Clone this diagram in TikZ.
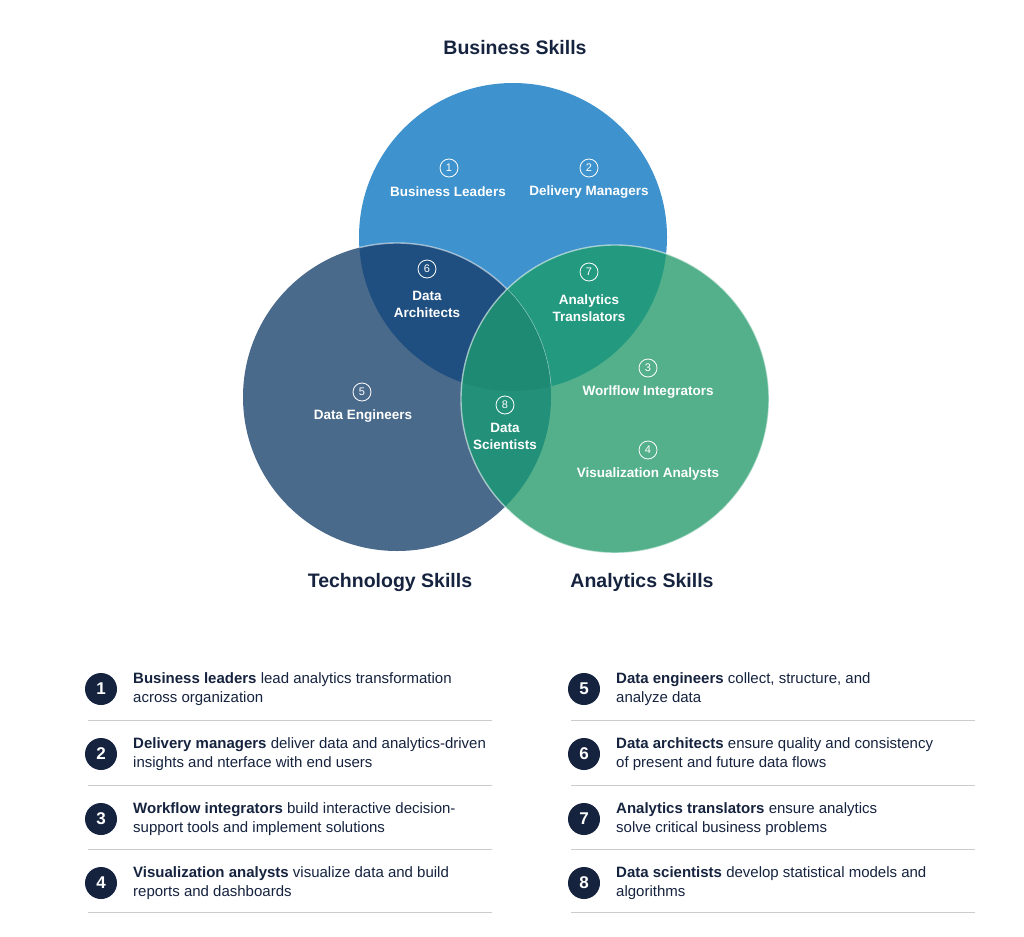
\documentclass[tikz,border=0pt]{standalone}
\usepackage{fontspec}
\setmainfont{Liberation Sans}
\usetikzlibrary{positioning}

\definecolor{navy}{HTML}{16233F}
\definecolor{bizblue}{HTML}{3E92CD}
\definecolor{techblue}{HTML}{4A6A8C}
\definecolor{anagreen}{HTML}{53B08B}
\definecolor{bizttech}{HTML}{1F4F80}
\definecolor{bizana}{HTML}{23997F}
\definecolor{techana}{HTML}{23907A}
\definecolor{allthree}{HTML}{1F8A74}

\begin{document}
\begin{tikzpicture}[x=1pt,y=-1pt,
  skill/.style={font=\bfseries\fontsize{19.5}{22}\selectfont,text=navy,inner sep=0},
  role/.style={font=\bfseries\fontsize{13.5}{17}\selectfont,text=white,align=center,inner sep=0},
  num/.style={circle,draw=white,line width=0.8pt,minimum size=18pt,inner sep=0,
    font=\fontsize{11}{11}\selectfont,text=white},
  badge/.style={circle,fill=navy,minimum size=32pt,inner sep=0,
    font=\bfseries\fontsize{17}{17}\selectfont,text=white},
  item/.style={anchor=west,align=left,inner sep=0,
    font=\fontsize{15}{18.5}\selectfont,text=navy},
  rule/.style={draw=black!20,line width=0.8pt}]

\useasboundingbox (0,0) rectangle (1024,936);
\fill[white] (0,0) rectangle (1024,936);

% circle centres and radius
\def\r{154pt}
\coordinate (B) at (513,237);
\coordinate (T) at (397,397);
\coordinate (A) at (615,399);

\fill[bizblue]  (B) circle[radius=\r];
\fill[techblue] (T) circle[radius=\r];
\fill[anagreen] (A) circle[radius=\r];

\begin{scope}
\clip (B) circle[radius=\r];
\fill[bizttech] (T) circle[radius=\r];
\fill[bizana]   (A) circle[radius=\r];
\draw[white,opacity=0.55,line width=1.4pt] (T) circle[radius=\r];
\end{scope}

\begin{scope}
\clip (T) circle[radius=\r];
\fill[techana] (A) circle[radius=\r];
\clip (B) circle[radius=\r];
\fill[allthree] (A) circle[radius=\r];
\end{scope}

\draw[white,opacity=0.55,line width=1.4pt] (A) circle[radius=\r];

% titles
\node[skill] (bizskills)  at (515,48)  {Business Skills};
\node[skill] (techskills) at (390,582) {Technology Skills};
\node[skill] (anaskills)  at (642,582) {Analytics Skills};

% roles in the circles
\node[num]  (n1) at (449,168) {1};
\node[role] (r1) at (448,192) {Business Leaders};
\node[num]  (n2) at (589,168) {2};
\node[role] (r2) at (589,192) {Delivery Managers};
\node[num]  (n3) at (648,368) {3};
\node[role] (r3) at (648,392) {Worlflow Integrators};
\node[num]  (n4) at (648,450) {4};
\node[role] (r4) at (648,474) {Visualization Analysts};
\node[num]  (n5) at (362,392) {5};
\node[role] (r5) at (363,416) {Data Engineers};
\node[num]  (n6) at (427,269) {6};
\node[role] (r6) at (427,304.5) {Data\\Architects};
\node[num]  (n7) at (589,272) {7};
\node[role] (r7) at (589,308.5) {Analytics\\Translators};
\node[num]  (n8) at (505,405) {8};
\node[role] (r8) at (505,436.5) {Data\\Scientists};

% legend, left column
\node[badge] (b1) at (101,689) {1};
\node[item]  (t1) at (133,689) {\textbf{Business leaders} lead analytics transformation\\across organization};
\node[badge] (b2) at (101,754) {2};
\node[item]  (t2) at (133,754) {\textbf{Delivery managers} deliver data and analytics-driven\\insights and nterface with end users};
\node[badge] (b3) at (101,819) {3};
\node[item]  (t3) at (133,819) {\textbf{Workflow integrators} build interactive decision-\\support tools and implement solutions};
\node[badge] (b4) at (101,883) {4};
\node[item]  (t4) at (133,883) {\textbf{Visualization analysts} visualize data and build\\reports and dashboards};

% legend, right column
\node[badge] (b5) at (584,689) {5};
\node[item]  (t5) at (616,689) {\textbf{Data engineers} collect, structure, and\\analyze data};
\node[badge] (b6) at (584,754) {6};
\node[item]  (t6) at (616,754) {\textbf{Data architects} ensure quality and consistency\\of present and future data flows};
\node[badge] (b7) at (584,819) {7};
\node[item]  (t7) at (616,819) {\textbf{Analytics translators} ensure analytics\\solve critical business problems};
\node[badge] (b8) at (584,883) {8};
\node[item]  (t8) at (616,883) {\textbf{Data scientists} develop statistical models and\\algorithms};

\foreach \y in {720,785,849,912}{
  \draw[rule] (88,\y) -- (492,\y);
  \draw[rule] (571,\y) -- (975,\y);
}

\end{tikzpicture}
\end{document}
